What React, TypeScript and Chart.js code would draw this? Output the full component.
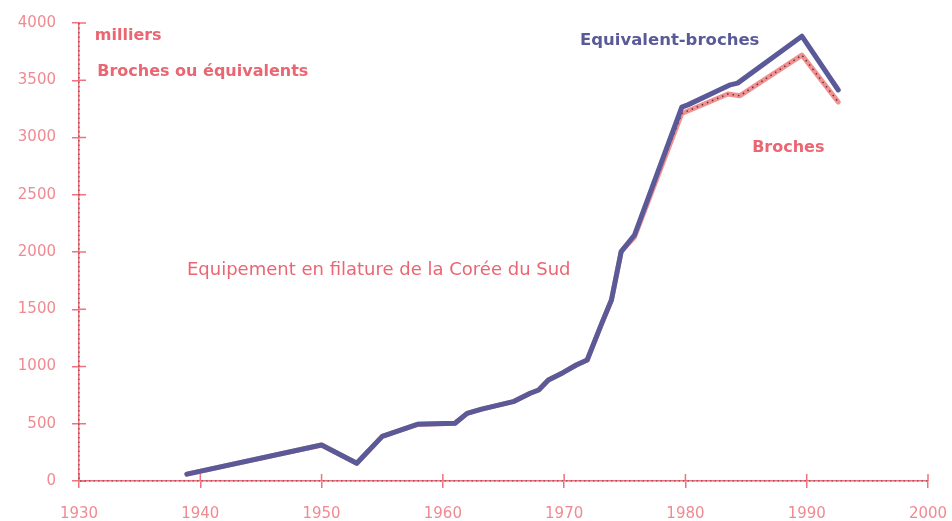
import React, { useEffect, useRef } from 'react';
import { Chart, registerables } from 'chart.js';

Chart.register(...registerables);

// ---- data ----
const xTickValues = [1930, 1940, 1950, 1960, 1970, 1980, 1990, 2000];
const yTickValues = [0, 500, 1000, 1500, 2000, 2500, 3000, 3500, 4000];

// Equivalent-broches (milliers)
const equivYears = [1938.9, 1950, 1952.9, 1955, 1957.9, 1961, 1962, 1963.2, 1965.8, 1967.2, 1967.9, 1968.7, 1969.9, 1971, 1971.9, 1973.1, 1973.9, 1974.7, 1975.8, 1979.7, 1980.2, 1983.7, 1984.3, 1989.6, 1992.6];
const equivValues = [60, 315, 155, 390, 495, 504, 591, 628, 693, 766, 795, 882, 946, 1013, 1057, 1377, 1581, 2003, 2148, 3265, 3285, 3460, 3475, 3885, 3415];

// Broches (milliers)
const brochesYears = [1938.9, 1950, 1952.9, 1955, 1957.9, 1961, 1962, 1963.2, 1965.8, 1967.2, 1967.9, 1968.7, 1969.9, 1971, 1971.9, 1973.1, 1973.9, 1974.7, 1975.8, 1979.7, 1983.5, 1984.5, 1989.6, 1992.6];
const brochesValues = [60, 315, 155, 390, 495, 504, 591, 628, 693, 766, 795, 882, 946, 1013, 1057, 1377, 1581, 2003, 2130, 3210, 3380, 3365, 3720, 3310];

// ---- styles ----
const AXIS_PINK = '#f0707c';
const TICK_TEXT = '#f08a92';
const TEXT_PINK = '#ea6672';
const BLUE = '#5a5a98';
const LINE_PINK = '#f29090';
const FONT = '"DejaVu Sans", Verdana, sans-serif';

const annotations = [
  { text: 'milliers', x: 1931.3, y: 3886, color: TEXT_PINK, font: `bold 16px ${FONT}` },
  { text: 'Broches ou équivalents', x: 1931.5, y: 3572, color: TEXT_PINK, font: `bold 16px ${FONT}` },
  { text: 'Equivalent-broches', x: 1971.3, y: 3843, color: BLUE, font: `bold 16.5px ${FONT}` },
  { text: 'Broches', x: 1985.5, y: 2908, color: TEXT_PINK, font: `bold 16px ${FONT}` },
  { text: 'Equipement en filature de la Corée du Sud', x: 1938.9, y: 1843, color: TEXT_PINK, font: `18px ${FONT}` },
];

const decorPlugin = {
  id: 'decor',
  beforeDatasetsDraw(chart: any) {
    const { ctx, chartArea, scales } = chart;
    const x = scales.x;
    const y = scales.y;
    ctx.save();
    ctx.strokeStyle = AXIS_PINK;
    ctx.lineWidth = 1.5;
    yTickValues.forEach((v) => {
      const py = y.getPixelForValue(v);
      ctx.beginPath();
      ctx.moveTo(chartArea.left, py);
      ctx.lineTo(chartArea.left + 7, py);
      ctx.stroke();
    });
    xTickValues.forEach((v) => {
      const px = x.getPixelForValue(v);
      ctx.beginPath();
      ctx.moveTo(px, chartArea.bottom);
      ctx.lineTo(px, chartArea.bottom - 7);
      ctx.stroke();
    });
    ctx.setLineDash([1.5, 3]);
    ctx.strokeStyle = 'rgba(60,35,45,0.75)';
    ctx.lineWidth = 1;
    ctx.beginPath();
    ctx.moveTo(chartArea.left, chartArea.top);
    ctx.lineTo(chartArea.left, chartArea.bottom);
    ctx.lineTo(chartArea.right, chartArea.bottom);
    ctx.stroke();
    ctx.restore();
  },
  afterDraw(chart: any) {
    const { ctx, scales } = chart;
    ctx.save();
    ctx.textBaseline = 'middle';
    ctx.textAlign = 'left';
    annotations.forEach((a) => {
      ctx.font = a.font;
      ctx.fillStyle = a.color;
      ctx.fillText(a.text, scales.x.getPixelForValue(a.x), scales.y.getPixelForValue(a.y));
    });
    ctx.restore();
  },
};

export default function App() {
  const canvasRef = useRef<HTMLCanvasElement | null>(null);

  useEffect(() => {
    if (!canvasRef.current) return;
    const toPts = (xs: number[], ys: number[]) => xs.map((xv, i) => ({ x: xv, y: ys[i] }));
    const chart = new Chart(canvasRef.current, {
      type: 'line',
      data: {
        datasets: [
          {
            label: 'Equivalent-broches',
            data: toPts(equivYears, equivValues),
            borderColor: BLUE,
            borderWidth: 5,
            pointRadius: 0,
            tension: 0,
            borderJoinStyle: 'round',
            borderCapStyle: 'round',
            order: 0,
          },
          {
            label: 'Broches (pointillé)',
            data: toPts(brochesYears, brochesValues),
            borderColor: 'rgba(50,30,40,0.8)',
            borderWidth: 1.5,
            borderDash: [1.5, 4],
            pointRadius: 0,
            tension: 0,
            order: 1,
          },
          {
            label: 'Broches',
            data: toPts(brochesYears, brochesValues),
            borderColor: LINE_PINK,
            borderWidth: 5,
            pointRadius: 0,
            tension: 0,
            borderJoinStyle: 'round',
            borderCapStyle: 'round',
            order: 2,
          },
        ],
      },
      options: {
        animation: false,
        responsive: true,
        maintainAspectRatio: false,
        layout: { padding: { top: 23, right: 24, left: 0, bottom: 0 } },
        plugins: { legend: { display: false }, tooltip: { enabled: false } },
        scales: {
          x: {
            type: 'linear',
            min: 1930,
            max: 2000,
            afterBuildTicks: (s: any) => {
              s.ticks = xTickValues.map((v) => ({ value: v }));
            },
            afterFit: (s: any) => {
              s.height = 40;
              s.paddingLeft = 0;
              s.paddingRight = 0;
            },
            ticks: {
              color: TICK_TEXT,
              font: { family: FONT, size: 15 },
              padding: 17,
              maxRotation: 0,
              callback: (v: any) => String(v),
            },
            grid: { display: true, drawOnChartArea: false, drawTicks: true, tickLength: 7, color: AXIS_PINK, lineWidth: 1.5 },
            border: { display: true, color: AXIS_PINK, width: 1.5 },
          },
          y: {
            type: 'linear',
            min: 0,
            max: 4000,
            afterBuildTicks: (s: any) => {
              s.ticks = yTickValues.map((v) => ({ value: v }));
            },
            afterFit: (s: any) => {
              s.width = 79;
              s.paddingTop = 0;
              s.paddingBottom = 0;
            },
            ticks: {
              color: TICK_TEXT,
              font: { family: FONT, size: 15 },
              padding: 16,
              callback: (v: any) => String(v),
            },
            grid: { display: true, drawOnChartArea: false, drawTicks: true, tickLength: 7, color: AXIS_PINK, lineWidth: 1.5 },
            border: { display: true, color: AXIS_PINK, width: 1.5 },
          },
        },
      },
      plugins: [decorPlugin],
    } as any);
    return () => chart.destroy();
  }, []);

  return (
    <div style={{ position: 'absolute', left: 0, top: 0, width: 952, height: 521, background: '#ffffff' }}>
      <canvas ref={canvasRef} />
    </div>
  );
}
